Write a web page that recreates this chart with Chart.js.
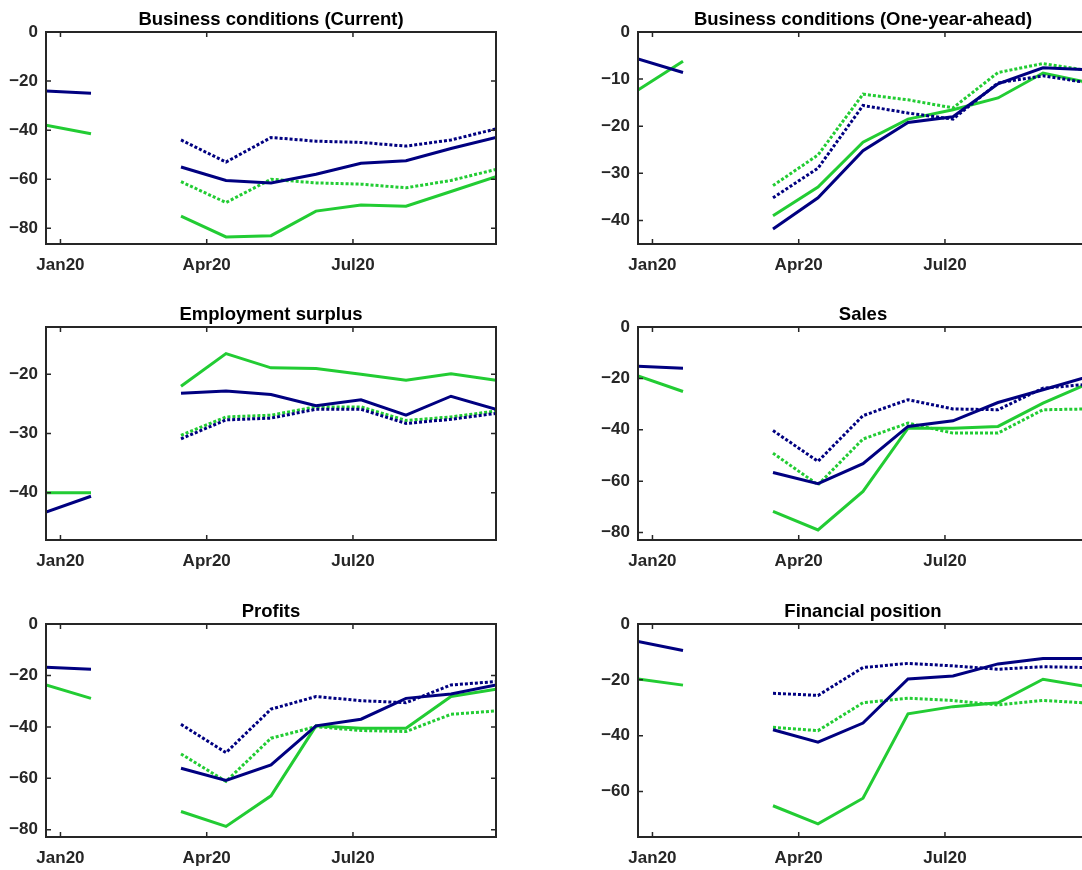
<!DOCTYPE html>
<html>
<head>
<meta charset="utf-8">
<title>Business survey indicators, 2020</title>
<script src="https://cdn.jsdelivr.net/npm/chart.js@4.4.0/dist/chart.umd.min.js"></script>
<style>
  html, body { margin: 0; padding: 0; background: #ffffff; overflow: hidden; width: 1082px; height: 870px; }
  .panel { position: absolute; }
  .panel canvas { display: block; }
</style>
</head>
<body>
<div class="panel" style="left:0px;top:0px"><canvas id="c1" width="506" height="284"></canvas></div>
<div class="panel" style="left:592px;top:0px"><canvas id="c2" width="506" height="284"></canvas></div>
<div class="panel" style="left:0px;top:295px"><canvas id="c3" width="506" height="285"></canvas></div>
<div class="panel" style="left:592px;top:295px"><canvas id="c4" width="506" height="285"></canvas></div>
<div class="panel" style="left:0px;top:592px"><canvas id="c5" width="506" height="285"></canvas></div>
<div class="panel" style="left:592px;top:592px"><canvas id="c6" width="506" height="285"></canvas></div>

<script>
// Survey rounds (every four weeks); the February round has no data.
const surveyDates = ['2019-12-23', '2020-01-20', '2020-02-17', '2020-03-16', '2020-04-13',
                     '2020-05-11', '2020-06-08', '2020-07-06', '2020-08-03', '2020-08-31', '2020-09-28'];
const tickDates  = ['2020-01-01', '2020-04-01', '2020-07-01'];
const tickLabels = ['Jan20', 'Apr20', 'Jul20'];

// Business conditions (Current)
const curNavy      = [-24, -25, null, -55, -60.5, -61.5, -58, -53.5, -52.5, -47.5, -43];
const curNavyDot   = [null, null, null, -44, -53, -43, -44.5, -45, -46.5, -44, -39.5];
const curGreen     = [-38, -41.5, null, -75, -83.5, -83, -73, -70.5, -71, -65, -59];
const curGreenDot  = [null, null, null, -61, -69.5, -60, -61.5, -62, -63.5, -60.5, -56];
const curTicks     = [0, -20, -40, -60, -80];

// Business conditions (One-year-ahead)
const aheadNavy     = [-5.7, -8.6, null, -41.8, -35.2, -25.2, -19.2, -18, -11, -7.6, -8];
const aheadNavyDot  = [null, null, null, -35.2, -28.9, -15.6, -17.2, -18.5, -10.8, -9.3, -10.8];
const aheadGreen    = [-12.3, -6.2, null, -39, -32.9, -23.4, -18.5, -16.5, -14, -8.7, -10.7];
const aheadGreenDot = [null, null, null, -32.6, -26.1, -13.2, -14.4, -16.1, -8.6, -6.7, -8.2];
const aheadTicks    = [0, -10, -20, -30, -40];

// Employment surplus
const empNavy      = [-43.3, -40.6, null, -23.2, -22.8, -23.4, -25.3, -24.3, -26.9, -23.7, -25.9];
const empNavyDot   = [null, null, null, -30.9, -27.7, -27.4, -25.9, -25.9, -28.3, -27.6, -26.6];
const empGreen     = [-40, -40, null, -22, -16.5, -18.9, -19, -20, -21, -19.9, -21];
const empGreenDot  = [null, null, null, -30.3, -27.2, -26.9, -25.5, -25.5, -27.8, -27.2, -26.2];
const empTicks     = [-20, -30, -40];

// Sales
const salesNavy     = [-15.3, -16.1, null, -56.6, -61, -53.2, -38.7, -36.5, -29.4, -24.4, -19.3];
const salesNavyDot  = [null, null, null, -40.3, -52.3, -34.5, -28.3, -31.9, -32.2, -23.8, -22.3];
const salesGreen    = [-19, -25.1, null, -71.8, -79, -64, -39.4, -39.4, -38.7, -29.6, -22];
const salesGreenDot = [null, null, null, -49.1, -61.4, -43.6, -37.4, -41.3, -41.3, -32.2, -31.9];
const salesTicks    = [0, -20, -40, -60, -80];

// Profits
const profNavy     = [-16.8, -17.6, null, -56.1, -60.8, -54.8, -39.6, -37, -28.9, -27.2, -23.7];
const profNavyDot  = [null, null, null, -39, -50, -33.1, -28.2, -29.8, -30.6, -23.7, -22.4];
const profGreen    = [-23.7, -28.9, null, -72.9, -78.7, -66.8, -39.6, -40.5, -40.5, -28.2, -25.4];
const profGreenDot = [null, null, null, -50.5, -61.2, -44.4, -39.9, -41.4, -41.8, -35.1, -33.8];
const profTicks    = [0, -20, -40, -60, -80];

// Financial position
const finNavy     = [-6.3, -9.5, null, -37.9, -42.3, -35.5, -19.7, -18.6, -14.3, -12.4, -12.4];
const finNavyDot  = [null, null, null, -24.8, -25.6, -15.6, -14.1, -15, -16.2, -15.3, -15.6];
const finGreen    = [-19.7, -21.9, null, -65.1, -71.6, -62.4, -32.2, -29.6, -28.2, -19.8, -22.5];
const finGreenDot = [null, null, null, -37, -38.2, -28.2, -26.6, -27.4, -29, -27.4, -28.3];
const finTicks    = [0, -20, -40, -60];

// ---------------------------------------------------------------------------
const NAVY = '#000080';
const GREEN = '#22cc33';
const AXIS = '#262626';
const FONT = "'Liberation Sans', Arial, sans-serif";

const toDay = s => Date.UTC(+s.slice(0, 4), +s.slice(5, 7) - 1, +s.slice(8, 10)) / 86400000;
const surveyDays = surveyDates.map(toDay);
const tickDays = tickDates.map(toDay);

const minusFmt = v => (v < 0 ? '\u2212' + Math.abs(v) : String(v));

// Box frame with inward tick marks on all four sides.
const boxTicks = {
  id: 'boxTicks',
  afterDatasetsDraw(chart) {
    const { ctx, chartArea: a, scales: { x, y } } = chart;
    const len = 5;
    ctx.save();
    ctx.strokeStyle = AXIS;
    ctx.lineWidth = 1.5;
    ctx.beginPath();
    x.ticks.forEach(t => {
      const px = x.getPixelForValue(t.value);
      ctx.moveTo(px, a.bottom); ctx.lineTo(px, a.bottom - len);
      ctx.moveTo(px, a.top);    ctx.lineTo(px, a.top + len);
    });
    y.ticks.forEach(t => {
      const py = y.getPixelForValue(t.value);
      ctx.moveTo(a.left, py);  ctx.lineTo(a.left + len, py);
      ctx.moveTo(a.right, py); ctx.lineTo(a.right - len, py);
    });
    ctx.stroke();
    ctx.lineWidth = 2;
    ctx.strokeRect(a.left, a.top, a.right - a.left, a.bottom - a.top);
    ctx.restore();
  }
};

// Panel heading, centred over the plot area.
const panelTitle = {
  id: 'panelTitle',
  afterDraw(chart, args, opts) {
    const { ctx, chartArea: a } = chart;
    ctx.save();
    ctx.font = `bold ${opts.size}px ${FONT}`;
    ctx.fillStyle = '#000000';
    ctx.textAlign = 'center';
    ctx.textBaseline = 'alphabetic';
    ctx.fillText(opts.text, (a.left + a.right) / 2, a.top - opts.gap);
    ctx.restore();
  }
};

function series(values, color, dotted) {
  return {
    data: values.map((v, i) => ({ x: surveyDays[i], y: v })),
    borderColor: color,
    backgroundColor: color,
    borderWidth: 3,
    borderDash: dotted ? [3, 2] : [],
    borderCapStyle: 'butt',
    pointRadius: 0,
    tension: 0,
    spanGaps: false,
    fill: false
  };
}

function makePanel(id, title, lines, yMin, yMax, yTicks) {
  new Chart(document.getElementById(id), {
    type: 'line',
    data: {
      datasets: [
        series(lines[0], NAVY, false),
        series(lines[1], NAVY, true),
        series(lines[2], GREEN, false),
        series(lines[3], GREEN, true)
      ]
    },
    options: {
      responsive: false,
      animation: false,
      events: [],
      layout: { padding: { left: 0, right: 10, top: 32, bottom: 0 } },
      plugins: {
        legend: { display: false },
        tooltip: { enabled: false },
        title: { display: false },
        panelTitle: { text: title, size: 18.5, gap: 7.5 }
      },
      scales: {
        x: {
          type: 'linear',
          min: surveyDays[0],
          max: surveyDays[surveyDays.length - 1],
          grid: { display: false, drawTicks: false },
          border: { display: false },
          afterBuildTicks: s => { s.ticks = tickDays.map(v => ({ value: v })); },
          afterFit: s => { s.height = 40; },
          ticks: {
            autoSkip: false,
            maxRotation: 0,
            padding: 11.5,
            color: AXIS,
            font: { family: FONT, size: 17, weight: 'bold' },
            callback: v => tickLabels[tickDays.indexOf(v)]
          }
        },
        y: {
          min: yMin,
          max: yMax,
          grid: { display: false, drawTicks: false },
          border: { display: false },
          afterBuildTicks: s => { s.ticks = yTicks.map(v => ({ value: v })); },
          afterFit: s => { s.width = 46; },
          ticks: {
            padding: 8,
            color: AXIS,
            font: { family: FONT, size: 17, weight: 'bold' },
            callback: v => minusFmt(v)
          }
        }
      }
    },
    plugins: [boxTicks, panelTitle]
  });
}

makePanel('c1', 'Business conditions (Current)',
  [curNavy, curNavyDot, curGreen, curGreenDot], -86.4, 0, curTicks);
makePanel('c2', 'Business conditions (One-year-ahead)',
  [aheadNavy, aheadNavyDot, aheadGreen, aheadGreenDot], -45, 0, aheadTicks);
makePanel('c3', 'Employment surplus',
  [empNavy, empNavyDot, empGreen, empGreenDot], -48, -12, empTicks);
makePanel('c4', 'Sales',
  [salesNavy, salesNavyDot, salesGreen, salesGreenDot], -82.9, 0, salesTicks);
makePanel('c5', 'Profits',
  [profNavy, profNavyDot, profGreen, profGreenDot], -82.8, 0, profTicks);
makePanel('c6', 'Financial position',
  [finNavy, finNavyDot, finGreen, finGreenDot], -76.3, 0, finTicks);
</script>
</body>
</html>
